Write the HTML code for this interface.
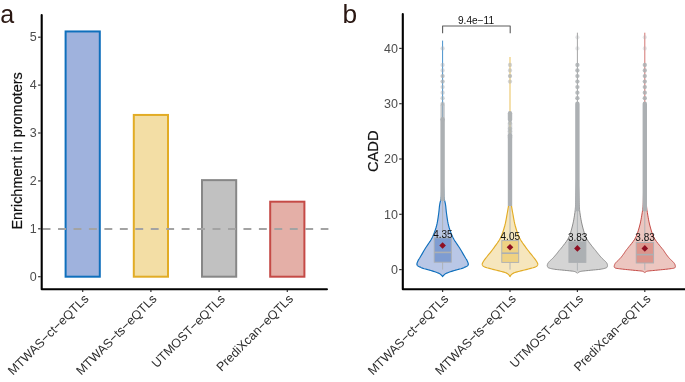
<!DOCTYPE html><html><head><meta charset="utf-8"><title>fig</title><style>
html,body{margin:0;padding:0;background:#fff;}body{width:685px;height:382px;overflow:hidden;font-family:"Liberation Sans",sans-serif;}svg{display:block;will-change:transform;opacity:0.999;font-family:"Liberation Sans",sans-serif;}
</style></head><body>
<svg width="685" height="382" viewBox="0 0 685 382">
<rect width="685" height="382" fill="#fff"/>
<rect x="65.60" y="31.45" width="34.20" height="245.25" fill="#9fb2dd" stroke="#0f6fbc" stroke-width="2"/>
<rect x="133.80" y="114.94" width="34.20" height="161.76" fill="#f3dea5" stroke="#e2ac25" stroke-width="2"/>
<rect x="202.00" y="180.13" width="34.20" height="96.57" fill="#c1c1c1" stroke="#878787" stroke-width="2"/>
<rect x="270.20" y="201.69" width="34.20" height="75.01" fill="#e4afa7" stroke="#c54a46" stroke-width="2"/>
<line x1="42.6" x2="328.4" y1="229.00" y2="229.00" stroke="#a3a3a3" stroke-width="1.9" stroke-dasharray="7.9 7.55"/>
<path d="M41.7 15.0V289.3H326.95" fill="none" stroke="#000" stroke-width="2.1" stroke-linecap="round" stroke-linejoin="round"/>
<line x1="38.1" x2="40.7" y1="276.70" y2="276.70" stroke="#333" stroke-width="1.2"/>
<text x="36.8" y="280.95" font-size="12.5" fill="#4d4d4d" text-anchor="end">0</text>
<line x1="38.1" x2="40.7" y1="228.80" y2="228.80" stroke="#333" stroke-width="1.2"/>
<text x="36.8" y="233.05" font-size="12.5" fill="#4d4d4d" text-anchor="end">1</text>
<line x1="38.1" x2="40.7" y1="180.90" y2="180.90" stroke="#333" stroke-width="1.2"/>
<text x="36.8" y="185.15" font-size="12.5" fill="#4d4d4d" text-anchor="end">2</text>
<line x1="38.1" x2="40.7" y1="133.00" y2="133.00" stroke="#333" stroke-width="1.2"/>
<text x="36.8" y="137.25" font-size="12.5" fill="#4d4d4d" text-anchor="end">3</text>
<line x1="38.1" x2="40.7" y1="85.10" y2="85.10" stroke="#333" stroke-width="1.2"/>
<text x="36.8" y="89.35" font-size="12.5" fill="#4d4d4d" text-anchor="end">4</text>
<line x1="38.1" x2="40.7" y1="37.20" y2="37.20" stroke="#333" stroke-width="1.2"/>
<text x="36.8" y="41.45" font-size="12.5" fill="#4d4d4d" text-anchor="end">5</text>
<line x1="82.70" x2="82.70" y1="290.1" y2="292.1" stroke="#333" stroke-width="1.2"/>
<line x1="150.90" x2="150.90" y1="290.1" y2="292.1" stroke="#333" stroke-width="1.2"/>
<line x1="219.10" x2="219.10" y1="290.1" y2="292.1" stroke="#333" stroke-width="1.2"/>
<line x1="287.30" x2="287.30" y1="290.1" y2="292.1" stroke="#333" stroke-width="1.2"/>
<text transform="translate(83.10,293.30) rotate(-45)" font-size="12.5" fill="#2e2e2e" text-anchor="end" dominant-baseline="hanging">MTWAS−ct−eQTLs</text>
<text transform="translate(151.30,293.30) rotate(-45)" font-size="12.5" fill="#2e2e2e" text-anchor="end" dominant-baseline="hanging">MTWAS−ts−eQTLs</text>
<text transform="translate(219.50,293.30) rotate(-45)" font-size="12.5" fill="#2e2e2e" text-anchor="end" dominant-baseline="hanging">UTMOST−eQTLs</text>
<text transform="translate(287.70,293.30) rotate(-45)" font-size="12.5" fill="#2e2e2e" text-anchor="end" dominant-baseline="hanging">PrediXcan−eQTLs</text>
<text transform="translate(21.9,150.9) rotate(-90)" font-size="14.45" fill="#111" stroke="#111" stroke-width="0.2" text-anchor="middle">Enrichment in promoters</text>
<text x="0.3" y="23" font-size="25" fill="#2a1712">a</text>
<line x1="442.60" x2="442.60" y1="40.6" y2="172" stroke="#0f6fbc" stroke-width="0.9" stroke-opacity="0.85"/>
<path d="M442.90 170.00 L442.98 172.32 L443.10 175.66 L443.23 179.55 L443.37 183.54 L443.50 187.18 L443.60 190.00 L443.66 191.94 L443.68 193.34 L443.69 194.39 L443.72 195.27 L443.78 196.14 L443.90 197.20 L444.10 198.39 L444.36 199.54 L444.65 200.71 L444.96 201.90 L445.25 203.15 L445.50 204.50 L445.70 205.93 L445.87 207.41 L446.02 208.96 L446.18 210.57 L446.36 212.25 L446.60 214.00 L446.86 215.86 L447.14 217.81 L447.44 219.84 L447.79 221.91 L448.20 223.97 L448.70 226.00 L449.29 228.03 L449.96 230.08 L450.69 232.14 L451.48 234.16 L452.32 236.13 L453.20 238.00 L454.15 239.76 L455.19 241.43 L456.28 243.04 L457.38 244.62 L458.46 246.20 L459.50 247.80 L460.54 249.51 L461.61 251.33 L462.66 253.14 L463.65 254.84 L464.51 256.33 L465.20 257.50 L465.67 258.27 L465.96 258.72 L466.13 258.95 L466.24 259.08 L466.34 259.23 L466.50 259.50 L466.71 259.89 L466.93 260.31 L467.14 260.74 L467.35 261.17 L467.54 261.59 L467.70 262.00 L467.85 262.39 L468.00 262.78 L468.12 263.16 L468.23 263.52 L468.29 263.87 L468.30 264.20 L468.27 264.50 L468.20 264.79 L468.09 265.06 L467.94 265.31 L467.75 265.56 L467.50 265.80 L467.19 266.03 L466.81 266.26 L466.39 266.47 L465.93 266.68 L465.47 266.89 L465.00 267.10 L464.58 267.31 L464.21 267.50 L463.82 267.70 L463.36 267.91 L462.77 268.14 L462.00 268.40 L461.00 268.70 L459.81 269.02 L458.49 269.37 L457.10 269.73 L455.72 270.11 L454.40 270.50 L453.08 270.91 L451.69 271.36 L450.31 271.81 L448.99 272.27 L447.79 272.70 L446.80 273.10 L446.03 273.46 L445.43 273.80 L444.96 274.11 L444.57 274.41 L444.24 274.71 L443.90 275.00 L443.58 275.30 L443.30 275.61 L443.07 275.92 L442.88 276.20 L442.72 276.43 L442.60 276.60 L442.60 276.60 L442.48 276.43 L442.32 276.20 L442.13 275.92 L441.90 275.61 L441.62 275.30 L441.30 275.00 L440.96 274.71 L440.63 274.41 L440.24 274.11 L439.77 273.80 L439.17 273.46 L438.40 273.10 L437.41 272.70 L436.21 272.27 L434.89 271.81 L433.51 271.36 L432.12 270.91 L430.80 270.50 L429.48 270.11 L428.10 269.73 L426.71 269.37 L425.39 269.02 L424.20 268.70 L423.20 268.40 L422.43 268.14 L421.84 267.91 L421.38 267.70 L420.99 267.50 L420.62 267.31 L420.20 267.10 L419.73 266.89 L419.27 266.68 L418.81 266.47 L418.39 266.26 L418.01 266.03 L417.70 265.80 L417.45 265.56 L417.26 265.31 L417.11 265.06 L417.00 264.79 L416.93 264.50 L416.90 264.20 L416.91 263.87 L416.97 263.52 L417.08 263.16 L417.20 262.78 L417.35 262.39 L417.50 262.00 L417.66 261.59 L417.85 261.17 L418.06 260.74 L418.27 260.31 L418.49 259.89 L418.70 259.50 L418.86 259.23 L418.96 259.08 L419.07 258.95 L419.24 258.72 L419.53 258.27 L420.00 257.50 L420.69 256.33 L421.55 254.84 L422.54 253.14 L423.59 251.33 L424.66 249.51 L425.70 247.80 L426.74 246.20 L427.82 244.62 L428.93 243.04 L430.01 241.43 L431.05 239.76 L432.00 238.00 L432.88 236.13 L433.72 234.16 L434.51 232.14 L435.24 230.08 L435.91 228.03 L436.50 226.00 L437.00 223.97 L437.41 221.91 L437.76 219.84 L438.06 217.81 L438.34 215.86 L438.60 214.00 L438.84 212.25 L439.02 210.57 L439.18 208.96 L439.33 207.41 L439.50 205.93 L439.70 204.50 L439.95 203.15 L440.24 201.90 L440.55 200.71 L440.84 199.54 L441.10 198.39 L441.30 197.20 L441.42 196.14 L441.48 195.27 L441.51 194.39 L441.52 193.34 L441.54 191.94 L441.60 190.00 L441.70 187.18 L441.83 183.54 L441.97 179.55 L442.10 175.66 L442.22 172.32 L442.30 170.00Z" fill="#b9c7e6" stroke="#0f6fbc" stroke-width="1.15" stroke-linejoin="round"/>
<line x1="442.60" x2="442.60" y1="199" y2="237.8" stroke="#acb0b3" stroke-width="0.9"/>
<line x1="442.60" x2="442.60" y1="262.2" y2="269.6" stroke="#acb0b3" stroke-width="0.9"/>
<rect x="434.2" y="237.8" width="17.10" height="24.40" fill="#7e9cd1" stroke="#acb0b3" stroke-width="0.9"/>
<line x1="434.2" x2="451.3" y1="252.4" y2="252.4" stroke="#acb0b3" stroke-width="1.6"/>
<line x1="510.00" x2="510.00" y1="57" y2="172" stroke="#e2ac25" stroke-width="0.9" stroke-opacity="0.85"/>
<path d="M510.30 170.00 L510.33 172.32 L510.38 175.66 L510.44 179.55 L510.50 183.54 L510.55 187.18 L510.60 190.00 L510.64 191.94 L510.66 193.34 L510.69 194.39 L510.71 195.27 L510.75 196.14 L510.80 197.20 L510.85 198.39 L510.90 199.54 L510.96 200.71 L511.04 201.90 L511.15 203.15 L511.30 204.50 L511.49 205.93 L511.72 207.41 L511.98 208.96 L512.27 210.57 L512.57 212.25 L512.90 214.00 L513.23 215.86 L513.57 217.81 L513.93 219.84 L514.33 221.91 L514.78 223.97 L515.30 226.00 L515.88 228.03 L516.51 230.08 L517.19 232.14 L517.93 234.16 L518.73 236.13 L519.60 238.00 L520.54 239.76 L521.56 241.43 L522.64 243.04 L523.77 244.62 L524.93 246.20 L526.10 247.80 L527.36 249.49 L528.74 251.27 L530.14 253.04 L531.50 254.73 L532.71 256.24 L533.70 257.50 L534.44 258.45 L534.98 259.16 L535.39 259.69 L535.71 260.12 L535.99 260.53 L536.30 261.00 L536.62 261.51 L536.92 261.99 L537.19 262.46 L537.41 262.90 L537.58 263.31 L537.70 263.70 L537.76 264.05 L537.77 264.37 L537.73 264.67 L537.64 264.95 L537.50 265.22 L537.30 265.50 L537.08 265.77 L536.83 266.04 L536.54 266.29 L536.16 266.55 L535.65 266.82 L535.00 267.10 L534.16 267.40 L533.16 267.71 L532.03 268.03 L530.83 268.36 L529.61 268.68 L528.40 269.00 L527.18 269.32 L525.90 269.63 L524.60 269.95 L523.30 270.27 L522.02 270.58 L520.80 270.90 L519.60 271.22 L518.39 271.53 L517.21 271.85 L516.09 272.17 L515.07 272.48 L514.20 272.80 L513.48 273.12 L512.90 273.43 L512.42 273.75 L512.01 274.07 L511.65 274.38 L511.30 274.70 L510.98 275.04 L510.70 275.40 L510.47 275.77 L510.28 276.11 L510.12 276.39 L510.00 276.60 L510.00 276.60 L509.88 276.39 L509.72 276.11 L509.53 275.77 L509.30 275.40 L509.02 275.04 L508.70 274.70 L508.35 274.38 L507.99 274.07 L507.58 273.75 L507.10 273.43 L506.52 273.12 L505.80 272.80 L504.93 272.48 L503.91 272.17 L502.79 271.85 L501.61 271.53 L500.40 271.22 L499.20 270.90 L497.98 270.58 L496.70 270.27 L495.40 269.95 L494.10 269.63 L492.82 269.32 L491.60 269.00 L490.39 268.68 L489.17 268.36 L487.97 268.03 L486.84 267.71 L485.84 267.40 L485.00 267.10 L484.35 266.82 L483.84 266.55 L483.46 266.29 L483.17 266.04 L482.92 265.77 L482.70 265.50 L482.50 265.22 L482.36 264.95 L482.27 264.67 L482.23 264.37 L482.24 264.05 L482.30 263.70 L482.42 263.31 L482.59 262.90 L482.81 262.46 L483.08 261.99 L483.38 261.51 L483.70 261.00 L484.01 260.53 L484.29 260.12 L484.61 259.69 L485.02 259.16 L485.56 258.45 L486.30 257.50 L487.29 256.24 L488.50 254.73 L489.86 253.04 L491.26 251.27 L492.64 249.49 L493.90 247.80 L495.07 246.20 L496.23 244.62 L497.36 243.04 L498.44 241.43 L499.46 239.76 L500.40 238.00 L501.27 236.13 L502.07 234.16 L502.81 232.14 L503.49 230.08 L504.12 228.03 L504.70 226.00 L505.22 223.97 L505.67 221.91 L506.07 219.84 L506.43 217.81 L506.77 215.86 L507.10 214.00 L507.43 212.25 L507.73 210.57 L508.02 208.96 L508.28 207.41 L508.51 205.93 L508.70 204.50 L508.85 203.15 L508.96 201.90 L509.04 200.71 L509.10 199.54 L509.15 198.39 L509.20 197.20 L509.25 196.14 L509.29 195.27 L509.31 194.39 L509.34 193.34 L509.36 191.94 L509.40 190.00 L509.45 187.18 L509.50 183.54 L509.56 179.55 L509.62 175.66 L509.67 172.32 L509.70 170.00Z" fill="#f6e6bd" stroke="#e2ac25" stroke-width="1.15" stroke-linejoin="round"/>
<line x1="510.00" x2="510.00" y1="204" y2="240.6" stroke="#acb0b3" stroke-width="0.9"/>
<line x1="510.00" x2="510.00" y1="262.4" y2="269.6" stroke="#acb0b3" stroke-width="0.9"/>
<rect x="501.8" y="240.6" width="16.90" height="21.80" fill="#efd283" stroke="#acb0b3" stroke-width="0.9"/>
<line x1="501.8" x2="518.7" y1="253.2" y2="253.2" stroke="#acb0b3" stroke-width="1.6"/>
<line x1="577.40" x2="577.40" y1="32.7" y2="172" stroke="#878787" stroke-width="0.9" stroke-opacity="0.85"/>
<path d="M577.70 170.00 L577.81 172.24 L577.98 175.39 L578.17 179.09 L578.37 183.00 L578.55 186.75 L578.70 190.00 L578.81 192.79 L578.89 195.43 L578.96 197.91 L579.02 200.24 L579.10 202.44 L579.20 204.50 L579.31 206.34 L579.42 207.94 L579.54 209.41 L579.68 210.83 L579.86 212.33 L580.10 214.00 L580.38 215.86 L580.70 217.81 L581.06 219.84 L581.46 221.91 L581.91 223.97 L582.40 226.00 L582.92 228.03 L583.47 230.08 L584.06 232.14 L584.71 234.16 L585.45 236.13 L586.30 238.00 L587.35 239.85 L588.59 241.71 L589.93 243.51 L591.23 245.18 L592.39 246.63 L593.30 247.80 L593.90 248.59 L594.27 249.03 L594.49 249.26 L594.67 249.41 L594.87 249.62 L595.20 250.00 L595.64 250.56 L596.13 251.20 L596.66 251.89 L597.20 252.61 L597.75 253.32 L598.30 254.00 L598.86 254.68 L599.46 255.37 L600.06 256.07 L600.64 256.74 L601.20 257.36 L601.70 257.90 L602.14 258.36 L602.53 258.74 L602.89 259.08 L603.23 259.39 L603.56 259.69 L603.90 260.00 L604.24 260.32 L604.59 260.63 L604.92 260.94 L605.24 261.23 L605.53 261.52 L605.80 261.80 L606.04 262.07 L606.25 262.33 L606.44 262.58 L606.61 262.83 L606.76 263.07 L606.90 263.30 L607.02 263.53 L607.13 263.75 L607.21 263.97 L607.29 264.18 L607.35 264.39 L607.40 264.60 L607.45 264.80 L607.49 265.00 L607.51 265.19 L607.53 265.39 L607.52 265.59 L607.50 265.80 L607.46 266.03 L607.41 266.27 L607.34 266.52 L607.26 266.76 L607.14 266.99 L607.00 267.20 L606.87 267.38 L606.75 267.53 L606.61 267.66 L606.40 267.80 L606.08 267.94 L605.60 268.10 L604.97 268.28 L604.23 268.49 L603.38 268.69 L602.41 268.90 L601.32 269.11 L600.10 269.30 L598.69 269.48 L597.09 269.65 L595.36 269.81 L593.59 269.97 L591.84 270.14 L590.20 270.30 L588.59 270.47 L586.93 270.63 L585.30 270.80 L583.77 270.97 L582.41 271.13 L581.30 271.30 L580.47 271.47 L579.89 271.63 L579.47 271.80 L579.16 271.97 L578.89 272.13 L578.60 272.30 L578.30 272.48 L578.04 272.67 L577.83 272.86 L577.66 273.04 L577.51 273.19 L577.40 273.30 L577.40 273.30 L577.29 273.19 L577.14 273.04 L576.97 272.86 L576.76 272.67 L576.50 272.48 L576.20 272.30 L575.91 272.13 L575.64 271.97 L575.33 271.80 L574.91 271.63 L574.33 271.47 L573.50 271.30 L572.39 271.13 L571.03 270.97 L569.50 270.80 L567.87 270.63 L566.21 270.47 L564.60 270.30 L562.96 270.14 L561.21 269.97 L559.44 269.81 L557.71 269.65 L556.11 269.48 L554.70 269.30 L553.48 269.11 L552.39 268.90 L551.42 268.69 L550.57 268.49 L549.83 268.28 L549.20 268.10 L548.72 267.94 L548.40 267.80 L548.19 267.66 L548.05 267.53 L547.93 267.38 L547.80 267.20 L547.66 266.99 L547.54 266.76 L547.46 266.52 L547.39 266.27 L547.34 266.03 L547.30 265.80 L547.28 265.59 L547.27 265.39 L547.29 265.19 L547.31 265.00 L547.35 264.80 L547.40 264.60 L547.45 264.39 L547.51 264.18 L547.59 263.97 L547.67 263.75 L547.78 263.53 L547.90 263.30 L548.04 263.07 L548.19 262.83 L548.36 262.58 L548.55 262.33 L548.76 262.07 L549.00 261.80 L549.27 261.52 L549.56 261.23 L549.88 260.94 L550.21 260.63 L550.56 260.32 L550.90 260.00 L551.24 259.69 L551.57 259.39 L551.91 259.08 L552.27 258.74 L552.66 258.36 L553.10 257.90 L553.60 257.36 L554.16 256.74 L554.74 256.07 L555.34 255.37 L555.94 254.68 L556.50 254.00 L557.05 253.32 L557.60 252.61 L558.14 251.89 L558.67 251.20 L559.16 250.56 L559.60 250.00 L559.93 249.62 L560.13 249.41 L560.31 249.26 L560.53 249.03 L560.90 248.59 L561.50 247.80 L562.41 246.63 L563.57 245.18 L564.88 243.51 L566.21 241.71 L567.45 239.85 L568.50 238.00 L569.35 236.13 L570.09 234.16 L570.74 232.14 L571.33 230.08 L571.88 228.03 L572.40 226.00 L572.89 223.97 L573.34 221.91 L573.74 219.84 L574.10 217.81 L574.42 215.86 L574.70 214.00 L574.94 212.33 L575.12 210.83 L575.26 209.41 L575.38 207.94 L575.49 206.34 L575.60 204.50 L575.70 202.44 L575.78 200.24 L575.84 197.91 L575.91 195.43 L575.99 192.79 L576.10 190.00 L576.25 186.75 L576.43 183.00 L576.63 179.09 L576.82 175.39 L576.99 172.24 L577.10 170.00Z" fill="#d4d4d4" stroke="#878787" stroke-width="0.95" stroke-linejoin="round"/>
<line x1="577.40" x2="577.40" y1="205" y2="241.8" stroke="#acb0b3" stroke-width="0.9"/>
<line x1="577.40" x2="577.40" y1="262.4" y2="270.6" stroke="#acb0b3" stroke-width="0.9"/>
<rect x="568.9" y="241.8" width="17.00" height="20.60" fill="#acb0b3" stroke="#acb0b3" stroke-width="0.9"/>
<line x1="644.80" x2="644.80" y1="32.7" y2="172" stroke="#c54a46" stroke-width="0.9" stroke-opacity="0.85"/>
<path d="M645.10 170.00 L645.20 172.24 L645.35 175.39 L645.53 179.09 L645.70 183.00 L645.87 186.75 L646.00 190.00 L646.09 192.79 L646.14 195.43 L646.18 197.91 L646.23 200.24 L646.29 202.44 L646.40 204.50 L646.54 206.34 L646.70 207.94 L646.88 209.41 L647.08 210.83 L647.32 212.33 L647.60 214.00 L647.91 215.86 L648.24 217.81 L648.61 219.84 L649.02 221.91 L649.48 223.97 L650.00 226.00 L650.56 228.03 L651.15 230.08 L651.79 232.14 L652.50 234.16 L653.30 236.13 L654.20 238.00 L655.30 239.85 L656.61 241.71 L658.00 243.51 L659.36 245.18 L660.57 246.63 L661.50 247.80 L662.11 248.59 L662.47 249.03 L662.69 249.26 L662.84 249.41 L663.01 249.62 L663.30 250.00 L663.69 250.56 L664.12 251.20 L664.58 251.89 L665.04 252.61 L665.52 253.32 L666.00 254.00 L666.49 254.68 L667.01 255.37 L667.54 256.07 L668.06 256.74 L668.55 257.36 L669.00 257.90 L669.40 258.36 L669.77 258.74 L670.12 259.08 L670.45 259.39 L670.77 259.69 L671.10 260.00 L671.43 260.32 L671.77 260.63 L672.09 260.93 L672.41 261.22 L672.71 261.51 L673.00 261.80 L673.27 262.09 L673.53 262.38 L673.78 262.67 L674.00 262.95 L674.21 263.23 L674.40 263.50 L674.56 263.76 L674.70 264.00 L674.82 264.24 L674.92 264.49 L675.01 264.73 L675.10 265.00 L675.18 265.29 L675.26 265.61 L675.33 265.94 L675.38 266.26 L675.41 266.55 L675.40 266.80 L675.36 267.01 L675.30 267.18 L675.21 267.33 L675.09 267.46 L674.96 267.58 L674.80 267.70 L674.69 267.81 L674.63 267.91 L674.56 267.99 L674.38 268.08 L674.02 268.18 L673.40 268.30 L672.48 268.44 L671.32 268.60 L669.98 268.78 L668.52 268.95 L667.01 269.13 L665.50 269.30 L663.94 269.47 L662.27 269.64 L660.54 269.81 L658.82 269.98 L657.15 270.14 L655.60 270.30 L654.11 270.44 L652.63 270.58 L651.21 270.71 L649.89 270.84 L648.74 270.97 L647.80 271.10 L647.12 271.23 L646.67 271.37 L646.38 271.50 L646.18 271.63 L646.01 271.77 L645.80 271.90 L645.56 272.04 L645.36 272.20 L645.18 272.35 L645.02 272.49 L644.90 272.61 L644.80 272.70 L644.80 272.70 L644.70 272.61 L644.58 272.49 L644.43 272.35 L644.24 272.20 L644.04 272.04 L643.80 271.90 L643.59 271.77 L643.42 271.63 L643.23 271.50 L642.93 271.37 L642.48 271.23 L641.80 271.10 L640.86 270.97 L639.71 270.84 L638.39 270.71 L636.97 270.58 L635.49 270.44 L634.00 270.30 L632.45 270.14 L630.78 269.98 L629.06 269.81 L627.33 269.64 L625.66 269.47 L624.10 269.30 L622.59 269.13 L621.08 268.95 L619.62 268.78 L618.28 268.60 L617.12 268.44 L616.20 268.30 L615.58 268.18 L615.22 268.08 L615.04 267.99 L614.97 267.91 L614.91 267.81 L614.80 267.70 L614.64 267.58 L614.51 267.46 L614.39 267.33 L614.30 267.18 L614.24 267.01 L614.20 266.80 L614.19 266.55 L614.22 266.26 L614.27 265.94 L614.34 265.61 L614.42 265.29 L614.50 265.00 L614.59 264.73 L614.68 264.49 L614.78 264.24 L614.90 264.00 L615.04 263.76 L615.20 263.50 L615.39 263.23 L615.60 262.95 L615.83 262.67 L616.07 262.38 L616.33 262.09 L616.60 261.80 L616.89 261.51 L617.19 261.22 L617.51 260.93 L617.83 260.63 L618.17 260.32 L618.50 260.00 L618.83 259.69 L619.15 259.39 L619.48 259.08 L619.83 258.74 L620.20 258.36 L620.60 257.90 L621.05 257.36 L621.54 256.74 L622.06 256.07 L622.59 255.37 L623.11 254.68 L623.60 254.00 L624.08 253.32 L624.56 252.61 L625.03 251.89 L625.48 251.20 L625.91 250.56 L626.30 250.00 L626.59 249.62 L626.76 249.41 L626.91 249.26 L627.13 249.03 L627.49 248.59 L628.10 247.80 L629.03 246.63 L630.24 245.18 L631.60 243.51 L632.99 241.71 L634.30 239.85 L635.40 238.00 L636.30 236.13 L637.10 234.16 L637.81 232.14 L638.45 230.08 L639.04 228.03 L639.60 226.00 L640.12 223.97 L640.58 221.91 L640.99 219.84 L641.36 217.81 L641.69 215.86 L642.00 214.00 L642.28 212.33 L642.52 210.83 L642.73 209.41 L642.90 207.94 L643.06 206.34 L643.20 204.50 L643.31 202.44 L643.37 200.24 L643.42 197.91 L643.46 195.43 L643.51 192.79 L643.60 190.00 L643.73 186.75 L643.90 183.00 L644.08 179.09 L644.25 175.39 L644.40 172.24 L644.50 170.00Z" fill="#ecc6c0" stroke="#c54a46" stroke-width="1.0" stroke-linejoin="round"/>
<line x1="644.80" x2="644.80" y1="210" y2="242.5" stroke="#acb0b3" stroke-width="0.9"/>
<line x1="644.80" x2="644.80" y1="263.0" y2="269.9" stroke="#acb0b3" stroke-width="0.9"/>
<rect x="636.2" y="242.5" width="17.40" height="20.50" fill="#dc958c" stroke="#acb0b3" stroke-width="0.9"/>
<line x1="636.2" x2="653.6" y1="254.6" y2="254.6" stroke="#acb0b3" stroke-width="1.6"/>
<circle cx="442.60" cy="48.40" r="2.15" fill="#acb0b3" fill-opacity="0.45"/>
<circle cx="442.60" cy="64.99" r="2.15" fill="#acb0b3" fill-opacity="0.45"/>
<circle cx="442.60" cy="70.52" r="2.15" fill="#acb0b3" fill-opacity="0.45"/>
<circle cx="442.60" cy="76.05" r="2.15" fill="#acb0b3" fill-opacity="0.75"/>
<circle cx="442.60" cy="81.58" r="2.15" fill="#acb0b3" fill-opacity="0.75"/>
<circle cx="442.60" cy="87.11" r="2.15" fill="#acb0b3" fill-opacity="0.5"/>
<circle cx="442.60" cy="92.64" r="2.15" fill="#acb0b3" fill-opacity="0.5"/>
<circle cx="442.60" cy="98.17" r="2.15" fill="#acb0b3" fill-opacity="0.55"/>
<circle cx="442.60" cy="103.70" r="2.15" fill="#acb0b3" fill-opacity="0.6"/>
<rect x="440.40" y="103.00" width="4.4" height="19.00" rx="2.2" fill="#acb0b3" fill-opacity="0.7"/>
<path d="M440.40 201.00V119.20A2.2 2.2 0 0 1 444.80 119.20V201.00Z" fill="#acb0b3" fill-opacity="1"/>
<circle cx="510.00" cy="64.99" r="2.15" fill="#acb0b3" fill-opacity="0.5"/>
<circle cx="510.00" cy="70.52" r="2.15" fill="#acb0b3" fill-opacity="0.5"/>
<circle cx="510.00" cy="76.05" r="2.15" fill="#acb0b3" fill-opacity="0.75"/>
<circle cx="510.00" cy="81.58" r="2.15" fill="#acb0b3" fill-opacity="0.5"/>
<circle cx="510.00" cy="123.06" r="2.15" fill="#acb0b3" fill-opacity="0.5"/>
<circle cx="510.00" cy="128.59" r="2.15" fill="#acb0b3" fill-opacity="0.6"/>
<circle cx="510.00" cy="131.35" r="2.15" fill="#acb0b3" fill-opacity="0.6"/>
<rect x="507.80" y="111.00" width="4.4" height="11.00" rx="2.2" fill="#acb0b3" fill-opacity="0.95"/>
<rect x="507.80" y="121.00" width="4.4" height="19.00" rx="2.2" fill="#acb0b3" fill-opacity="0.6"/>
<path d="M507.80 206.00V135.20A2.2 2.2 0 0 1 512.20 135.20V206.00Z" fill="#acb0b3" fill-opacity="1"/>
<circle cx="577.40" cy="37.34" r="2.15" fill="#acb0b3" fill-opacity="0.3"/>
<circle cx="577.40" cy="48.40" r="2.15" fill="#acb0b3" fill-opacity="0.3"/>
<circle cx="577.40" cy="64.99" r="2.15" fill="#acb0b3" fill-opacity="0.85"/>
<circle cx="577.40" cy="70.52" r="2.15" fill="#acb0b3" fill-opacity="0.85"/>
<circle cx="577.40" cy="76.05" r="2.15" fill="#acb0b3" fill-opacity="0.85"/>
<circle cx="577.40" cy="81.58" r="2.15" fill="#acb0b3" fill-opacity="0.85"/>
<circle cx="577.40" cy="87.11" r="2.15" fill="#acb0b3" fill-opacity="0.85"/>
<circle cx="577.40" cy="92.64" r="2.15" fill="#acb0b3" fill-opacity="0.85"/>
<circle cx="577.40" cy="98.17" r="2.15" fill="#acb0b3" fill-opacity="0.9"/>
<circle cx="644.80" cy="37.34" r="2.15" fill="#acb0b3" fill-opacity="0.3"/>
<circle cx="644.80" cy="48.40" r="2.15" fill="#acb0b3" fill-opacity="0.3"/>
<circle cx="644.80" cy="64.99" r="2.15" fill="#acb0b3" fill-opacity="0.85"/>
<circle cx="644.80" cy="70.52" r="2.15" fill="#acb0b3" fill-opacity="0.85"/>
<circle cx="644.80" cy="76.05" r="2.15" fill="#acb0b3" fill-opacity="0.85"/>
<circle cx="644.80" cy="81.58" r="2.15" fill="#acb0b3" fill-opacity="0.85"/>
<circle cx="644.80" cy="87.11" r="2.15" fill="#acb0b3" fill-opacity="0.85"/>
<circle cx="644.80" cy="92.64" r="2.15" fill="#acb0b3" fill-opacity="0.85"/>
<circle cx="644.80" cy="98.17" r="2.15" fill="#acb0b3" fill-opacity="0.9"/>
<path d="M575.20 211.20V103.70A2.2 2.2 0 0 1 579.60 103.70V211.20Z" fill="#acb0b3" fill-opacity="1"/>
<path d="M642.60 211.20V103.70A2.2 2.2 0 0 1 647.00 103.70V211.20Z" fill="#acb0b3" fill-opacity="1"/>
<path d="M442.60 242.24L445.90 245.54L442.60 248.84L439.30 245.54Z" fill="#8f0f22"/>
<path d="M510.00 243.90L513.30 247.20L510.00 250.50L506.70 247.20Z" fill="#8f0f22"/>
<path d="M577.40 245.12L580.70 248.42L577.40 251.72L574.10 248.42Z" fill="#8f0f22"/>
<path d="M644.80 245.12L648.10 248.42L644.80 251.72L641.50 248.42Z" fill="#8f0f22"/>
<text x="442.90" y="238.1" font-size="10" fill="#111" text-anchor="middle">4.35</text>
<text x="510.30" y="239.8" font-size="10" fill="#111" text-anchor="middle">4.05</text>
<text x="577.70" y="241.0" font-size="10" fill="#111" text-anchor="middle">3.83</text>
<text x="645.10" y="241.0" font-size="10" fill="#111" text-anchor="middle">3.83</text>
<path d="M442.60 33.2V26.0H510.20V33.2" fill="none" stroke="#5c5c5c" stroke-width="1.1" stroke-linejoin="round"/>
<text x="476.00" y="23.7" font-size="10.1" fill="#111" text-anchor="middle">9.4e−11</text>
<path d="M402.8 14.0V289.2H686" fill="none" stroke="#000" stroke-width="2.1" stroke-linecap="round" stroke-linejoin="round"/>
<line x1="399.2" x2="401.8" y1="269.60" y2="269.60" stroke="#333" stroke-width="1.2"/>
<text x="397.90000000000003" y="273.85" font-size="12.5" fill="#4d4d4d" text-anchor="end">0</text>
<line x1="399.2" x2="401.8" y1="214.30" y2="214.30" stroke="#333" stroke-width="1.2"/>
<text x="397.90000000000003" y="218.55" font-size="12.5" fill="#4d4d4d" text-anchor="end">10</text>
<line x1="399.2" x2="401.8" y1="159.00" y2="159.00" stroke="#333" stroke-width="1.2"/>
<text x="397.90000000000003" y="163.25" font-size="12.5" fill="#4d4d4d" text-anchor="end">20</text>
<line x1="399.2" x2="401.8" y1="103.70" y2="103.70" stroke="#333" stroke-width="1.2"/>
<text x="397.90000000000003" y="107.95" font-size="12.5" fill="#4d4d4d" text-anchor="end">30</text>
<line x1="399.2" x2="401.8" y1="48.40" y2="48.40" stroke="#333" stroke-width="1.2"/>
<text x="397.90000000000003" y="52.65" font-size="12.5" fill="#4d4d4d" text-anchor="end">40</text>
<line x1="442.60" x2="442.60" y1="290.0" y2="292.0" stroke="#333" stroke-width="1.2"/>
<text transform="translate(443.00,293.30) rotate(-45)" font-size="12.5" fill="#2e2e2e" text-anchor="end" dominant-baseline="hanging">MTWAS−ct−eQTLs</text>
<line x1="510.00" x2="510.00" y1="290.0" y2="292.0" stroke="#333" stroke-width="1.2"/>
<text transform="translate(510.40,293.30) rotate(-45)" font-size="12.5" fill="#2e2e2e" text-anchor="end" dominant-baseline="hanging">MTWAS−ts−eQTLs</text>
<line x1="577.40" x2="577.40" y1="290.0" y2="292.0" stroke="#333" stroke-width="1.2"/>
<text transform="translate(577.80,293.30) rotate(-45)" font-size="12.5" fill="#2e2e2e" text-anchor="end" dominant-baseline="hanging">UTMOST−eQTLs</text>
<line x1="644.80" x2="644.80" y1="290.0" y2="292.0" stroke="#333" stroke-width="1.2"/>
<text transform="translate(645.20,293.30) rotate(-45)" font-size="12.5" fill="#2e2e2e" text-anchor="end" dominant-baseline="hanging">PrediXcan−eQTLs</text>
<text transform="translate(377.7,151.3) rotate(-90)" font-size="14.7" fill="#111" stroke="#111" stroke-width="0.2" text-anchor="middle">CADD</text>
<text x="342.5" y="23.1" font-size="26.3" fill="#2a1712">b</text>
</svg></body></html>
